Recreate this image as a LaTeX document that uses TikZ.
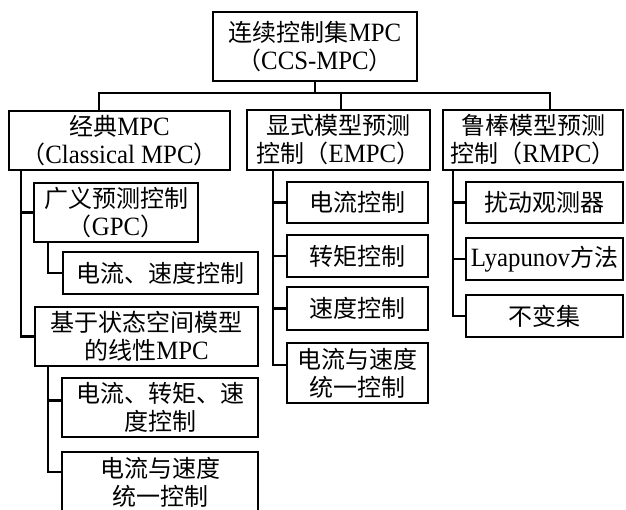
\documentclass[tikz,border=0pt]{standalone}
\usepackage{fontspec}
\setmainfont{Liberation Serif}[Scale=1.1,FakeStretch=0.94]
\newfontfamily\cjk{Noto Sans CJK SC}
\newcommand\zh[1]{{\cjk #1}}
\usetikzlibrary{calc}
\tikzset{
  box/.style={draw, line width=2.7pt, inner sep=0pt, align=center,
    font=\fontsize{24}{28}\selectfont},
  conn/.style={draw, line width=2.7pt, line join=miter}
}
\begin{document}
\begin{tikzpicture}[x=1pt,y=-1pt]
\useasboundingbox (0,0) rectangle (626,509);
\clip (0,0) rectangle (626,509);
\fill[white] (0,0) rectangle (626,509);
% level 0
\node[box, minimum width=204pt, minimum height=69pt] (top) at (315,46.5)
  {\zh{连续控制集}MPC\\\zh{（}CCS-MPC\zh{）}};
% level 1
\node[box, minimum width=221pt, minimum height=59pt] (cls) at (119.5,140.5)
  {\zh{经典}MPC\\\zh{（}Classical MPC\zh{）}};
\node[box, minimum width=183pt, minimum height=60pt] (empc) at (338.5,140)
  {\zh{显式模型预测}\\\zh{控制（}EMPC\zh{）}};
\node[box, minimum width=180pt, minimum height=60pt] (rmpc) at (533,140)
  {\zh{鲁棒模型预测}\\\zh{控制（}RMPC\zh{）}};
% classical branch
\node[box, minimum width=164pt, minimum height=59pt] (gpc) at (116,212.5)
  {\zh{广义预测控制}\\\zh{（}GPC\zh{）}};
\node[box, minimum width=195pt, minimum height=42pt] (g1) at (160.5,273)
  {\zh{电流、速度控制}};
\node[box, minimum width=223pt, minimum height=59pt] (ss) at (146.5,336.5)
  {\zh{基于状态空间模型}\\\zh{的线性}MPC};
\node[box, minimum width=196pt, minimum height=59pt] (s1) at (160,407.5)
  {\zh{电流、转矩、速}\\\zh{度控制}};
\node[box, minimum width=196pt, minimum height=60pt] (s2) at (160,482)
  {\zh{电流与速度}\\\zh{统一控制}};
% EMPC branch
\node[box, minimum width=141pt, minimum height=41pt] (e1) at (357.5,202.5) {\zh{电流控制}};
\node[box, minimum width=141pt, minimum height=42pt] (e2) at (357.5,256) {\zh{转矩控制}};
\node[box, minimum width=141pt, minimum height=43pt] (e3) at (357.5,308.5) {\zh{速度控制}};
\node[box, minimum width=141pt, minimum height=60pt] (e4) at (357.5,373)
  {\zh{电流与速度}\\\zh{统一控制}};
% RMPC branch
\node[box, minimum width=157pt, minimum height=41pt] (r1) at (544.5,202.5) {\zh{扰动观测器}};
\node[box, minimum width=157pt, minimum height=42pt] (r2) at (544.5,259) {Lyapunov\zh{方法}};
\node[box, minimum width=157pt, minimum height=42pt] (r3) at (544.5,316) {\zh{不变集}};
% connectors
\coordinate (bus) at (315,93);
\coordinate (busL) at (99,93);
\coordinate (busE) at (341,93);
\coordinate (busR) at (550,93);
\draw[conn] (top.south) -- (bus);
\draw[conn] (cls.north -| busL) -- (busL) -- (busR) -- (rmpc.north -| busR);
\draw[conn] (busE) -- (empc.north -| busE);
\coordinate (vL) at (21,0);
\coordinate (vG) at (48,0);
\coordinate (vE) at (273,0);
\coordinate (vR) at (453,0);
\draw[conn] (cls.south -| vL) |- (gpc.west);
\draw[conn] (cls.south -| vL) |- (ss.west);
\draw[conn] (gpc.south -| vG) |- (g1.west);
\draw[conn] (ss.south -| vG) |- ($(s1.west)+(0,-7)$);
\draw[conn] (ss.south -| vG) |- ($(s2.west)+(0,-10)$);
\draw[conn] (empc.south -| vE) |- (e1.west);
\draw[conn] (empc.south -| vE) |- (e2.west);
\draw[conn] (empc.south -| vE) |- (e3.west);
\draw[conn] (empc.south -| vE) |- ($(e4.west)+(0,-8)$);
\draw[conn] (rmpc.south -| vR) |- (r1.west);
\draw[conn] (rmpc.south -| vR) |- (r2.west);
\draw[conn] (rmpc.south -| vR) |- (r3.west);
\end{tikzpicture}
\end{document}
